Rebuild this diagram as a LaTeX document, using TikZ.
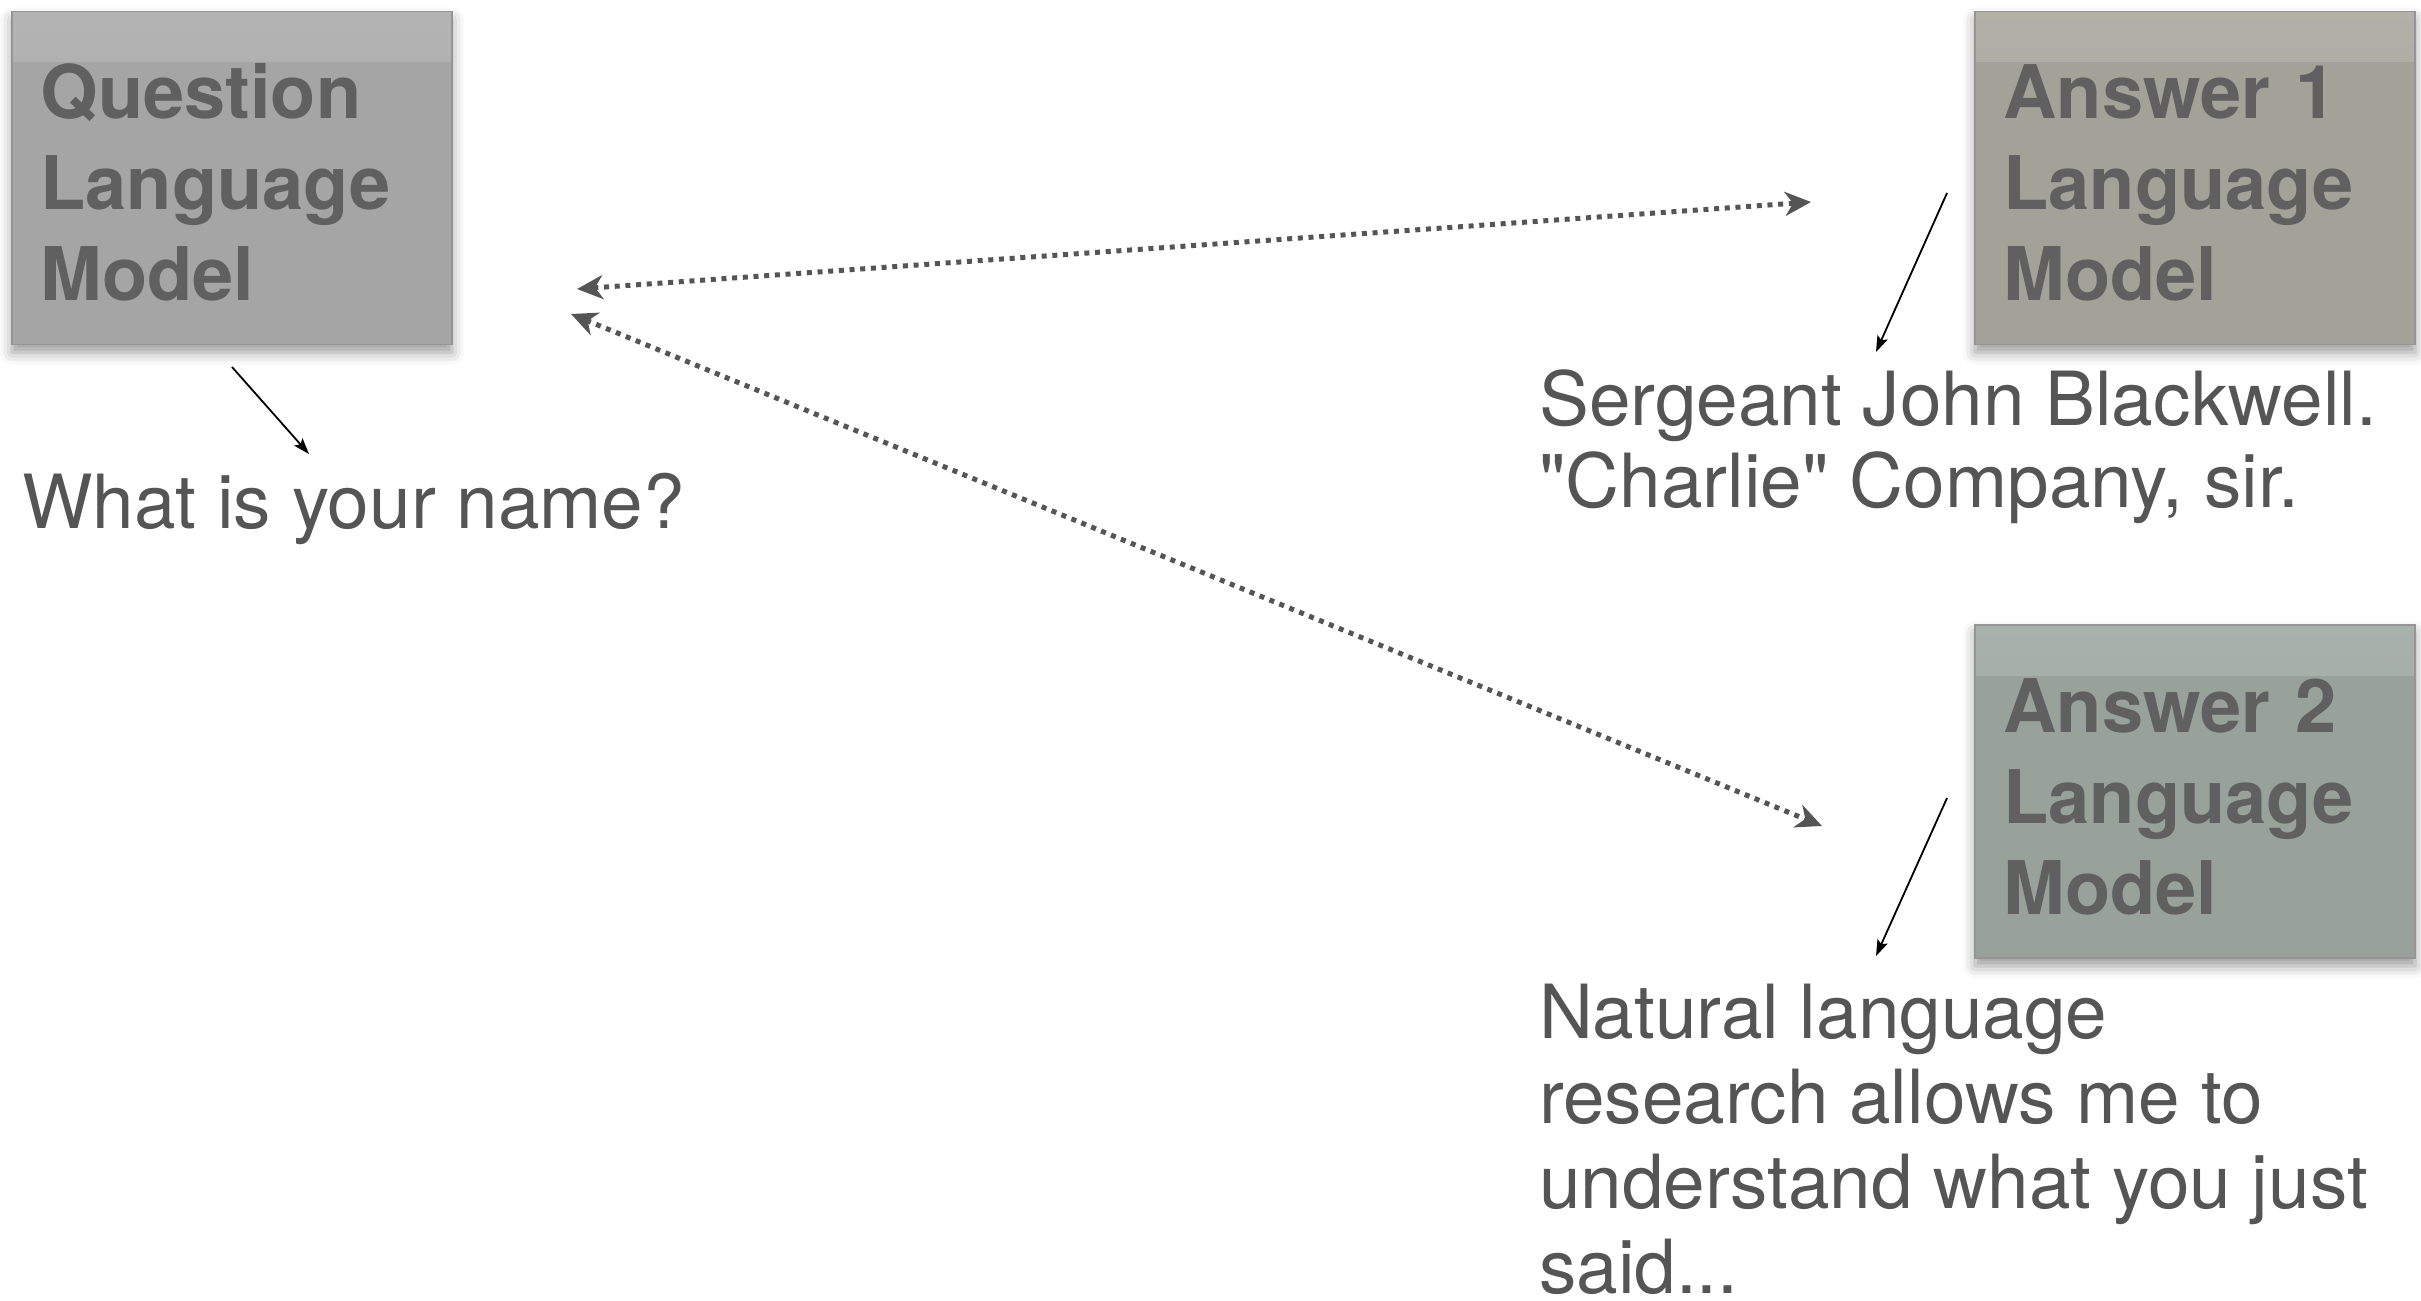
\documentclass[tikz,border=0pt]{standalone}
\usepackage{fontspec}
\setmainfont[Ligatures=TeXOff]{TeX Gyre Heros}
\usetikzlibrary{arrows.meta,shadows.blur}

\definecolor{qfill}{HTML}{A5A5A5}
\definecolor{afillone}{HTML}{A2A298}
\definecolor{afilltwo}{HTML}{98A29A}
\definecolor{boxline}{HTML}{959595}
\definecolor{boxtext}{HTML}{606060}
\definecolor{saycolor}{HTML}{555555}
\definecolor{linkgray}{HTML}{555555}

% strut that lowers the first line of a box label a little
\newcommand{\firstlinestrut}{\rule{0pt}{64pt}}

\tikzset{
  modelbox/.style={
    fill=#1, draw=boxline, line width=1.5pt,
    minimum width=440pt, minimum height=333pt,
    text width=383pt, inner xsep=28.5pt, inner ysep=0pt,
    align=left, text=boxtext,
    font=\fontsize{74}{91}\selectfont\bfseries,
    blur shadow={shadow xshift=0pt, shadow yshift=-8pt,
                 shadow blur radius=12pt, shadow opacity=40},
    path picture={
      \shade[top color=#1!84!white, bottom color=#1]
        (path picture bounding box.north west) rectangle
        ([yshift=-50pt]path picture bounding box.north east);
    }
  },
  saytext/.style={
    anchor=base west, inner sep=0pt, align=left, text=saycolor,
    font=\fontsize{74.7}{82}\selectfont
  },
  pointer/.style={
    draw=black, line width=1.8pt,
    -{Stealth[length=16pt, width=11pt, inset=3pt]}
  },
  link/.style={
    draw=linkgray, line width=5pt, dash pattern=on 5pt off 5.7pt,
    {Stealth[length=26pt, width=24pt, inset=8pt]}-{Stealth[length=26pt, width=24pt, inset=8pt]}
  }
}

\begin{document}
\begin{tikzpicture}[x=1pt, y=-1pt]
  \useasboundingbox (0,0) rectangle (2421,1301);

  % the three language-model boxes
  \node[modelbox=qfill]    (question) at (232,178) {\firstlinestrut Question\\Language\\Model};
  \node[modelbox=afillone] (answerone) at (2195,178) {\firstlinestrut Answer 1\\Language\\Model};
  \node[modelbox=afilltwo] (answertwo) at (2195,791.5) {\firstlinestrut Answer 2\\Language\\Model};

  % what each model says (anchored at the baseline of the last line)
  \node[saytext] (ask) at (22,528) {What is your name?};
  \node[saytext] (replyone) at (1539,507)
    {Sergeant John Blackwell.\\"Charlie" Company, sir.};
  \node[saytext, font=\fontsize{74.7}{85}\selectfont] (replytwo) at (1539,1293)
    {Natural language\\research allows me to\\understand what you just\\said...};

  % ends of the connectors
  \coordinate (qtail) at (232,367);
  \coordinate (qtip)  at (309,454);
  \coordinate (aonetail) at (1947,193);
  \coordinate (aonetip)  at (1876,352);
  \coordinate (atwotail) at (1947,798);
  \coordinate (atwotip)  at (1876,956);
  \coordinate (qlinkone) at (577,289);
  \coordinate (qlinktwo) at (571,314);
  \coordinate (aonelink) at (1811,202);
  \coordinate (atwolink) at (1822,826);

  % model to its utterance
  \draw[pointer] (qtail) -- (qtip);
  \draw[pointer] (aonetail) -- (aonetip);
  \draw[pointer] (atwotail) -- (atwotip);

  % exchanges between the question model and the answer models
  \draw[link] (qlinkone) -- (aonelink);
  \draw[link] (qlinktwo) -- (atwolink);
\end{tikzpicture}
\end{document}
